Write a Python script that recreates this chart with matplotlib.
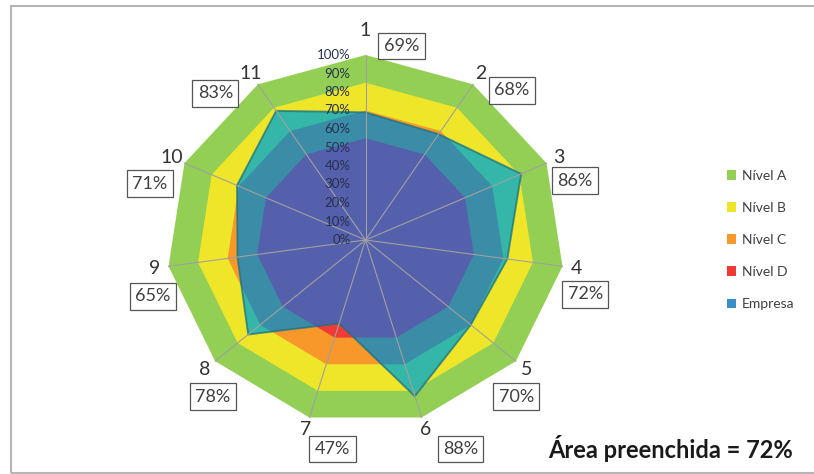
import numpy as np
import matplotlib
from matplotlib import pyplot as plt
from matplotlib.patches import Polygon, Patch, Rectangle

matplotlib.rc('font', family=['Lato', 'DejaVu Sans'])

# dados do gráfico radar
categorias = ["1", "2", "3", "4", "5", "6", "7", "8", "9", "10", "11"]
empresa = [69, 68, 86, 72, 70, 88, 47, 78, 65, 71, 83]
niveis = ["Nível A", "Nível B", "Nível C", "Nível D"]
valores_niveis = [100, 85, 70, 55]
ticks = [0, 10, 20, 30, 40, 50, 60, 70, 80, 90, 100]
area_preenchida = 72

cores_nivel = ["#93cf55", "#efe62a", "#f9982a", "#ef3a36"]
# cor da empresa por cima de cada nível
cores_empresa = ["#4bb59c", "#34b6a9", "#3b8ca7", "#5560ac"]
cor_legenda_empresa = "#3b8fc9"

# deslocamento (px) das caixas de valor em relação ao número do eixo
desloc = [(36, 15), (31, 17), (16, 23), (9, 26), (-10, 27), (35, 19),
          (27, 19), (8, 27), (-2, 28), (-22, 26), (-35, 20)]

W, H, dpi = 814, 474, 100
sx, sy = 1.99, 1.85    # px por ponto percentual (horizontal / vertical)
cx, cy = 365.5, 234.0  # centro em px (a partir de baixo)

fig = plt.figure(figsize=(W / dpi, H / dpi), dpi=dpi)
ax = fig.add_axes([0, 0, 1, 1])
ax.set_xlim(-cx / sx, (W - cx) / sx)
ax.set_ylim(-cy / sy, (H - cy) / sy)
ax.axis('off')

n = len(categorias)
ang = np.arange(n) * 2 * np.pi / n


def pontos(vals):
    vals = np.asarray(vals, dtype=float)
    return np.column_stack([vals * np.sin(ang), vals * np.cos(ang)])


# níveis de referência
patches_nivel = []
for v, c in zip(valores_niveis, cores_nivel):
    p = Polygon(pontos([v] * n), closed=True, fc=c, ec='none', zorder=1)
    ax.add_patch(p)
    patches_nivel.append(p)

# área da empresa, recortada em cada nível
for p_niv, c in zip(patches_nivel, cores_empresa):
    pe = Polygon(pontos(empresa), closed=True, fc=c, ec='none', zorder=2)
    ax.add_patch(pe)
    pe.set_clip_path(p_niv)

ax.add_patch(Polygon(pontos(empresa), closed=True, fc='none', ec='#1f6f7a',
                     lw=1.4, alpha=0.7, zorder=3))

# raios
for x, y in pontos([100] * n):
    ax.plot([0, x], [0, y], color='#a0a0a0', lw=0.8, zorder=4)

# escala em percentagem
for t in ticks:
    ax.text(-7.5, t, f"{t}%", ha='right', va='center', fontsize=9.5,
            color='#26304f', zorder=5)

# números dos eixos e caixas de valor
raios_rotulo = [113] + [107] * (n - 1)
for (x, y), cat, v, (dx, dy) in zip(pontos(raios_rotulo), categorias, empresa, desloc):
    ax.text(x, y, cat, ha='center', va='center', fontsize=14,
            color='#333333', zorder=5)
    ax.text(x + dx / sx, y - dy / sy, f"{v}%", ha='center', va='center',
            fontsize=13, color='#404040', zorder=5,
            bbox=dict(boxstyle='square,pad=0.3', fc='white', ec='#555555', lw=0.9))

# legenda
handles = [Patch(fc=c, ec='none') for c in cores_nivel] + [Patch(fc=cor_legenda_empresa, ec='none')]
fig.legend(handles, niveis + ["Empresa"], loc='center left',
           bbox_to_anchor=(714 / W, 1 - 240 / H), frameon=False, fontsize=10,
           handlelength=0.7, handleheight=0.7, handletextpad=0.4,
           labelspacing=1.45, labelcolor='#404040')

fig.text(548 / W, 1 - 448 / H, f"Área preenchida = {area_preenchida}%",
         ha='left', va='center', fontsize=17, fontweight='bold', color='#1a1a1a')

# moldura
fig.patches.append(Rectangle((11 / W, 1.5 / H), 1.0, (467 / H), transform=fig.transFigure,
                             fill=False, ec='#b5b5b5', lw=1.5))

plt.savefig('out.png', dpi=dpi)
